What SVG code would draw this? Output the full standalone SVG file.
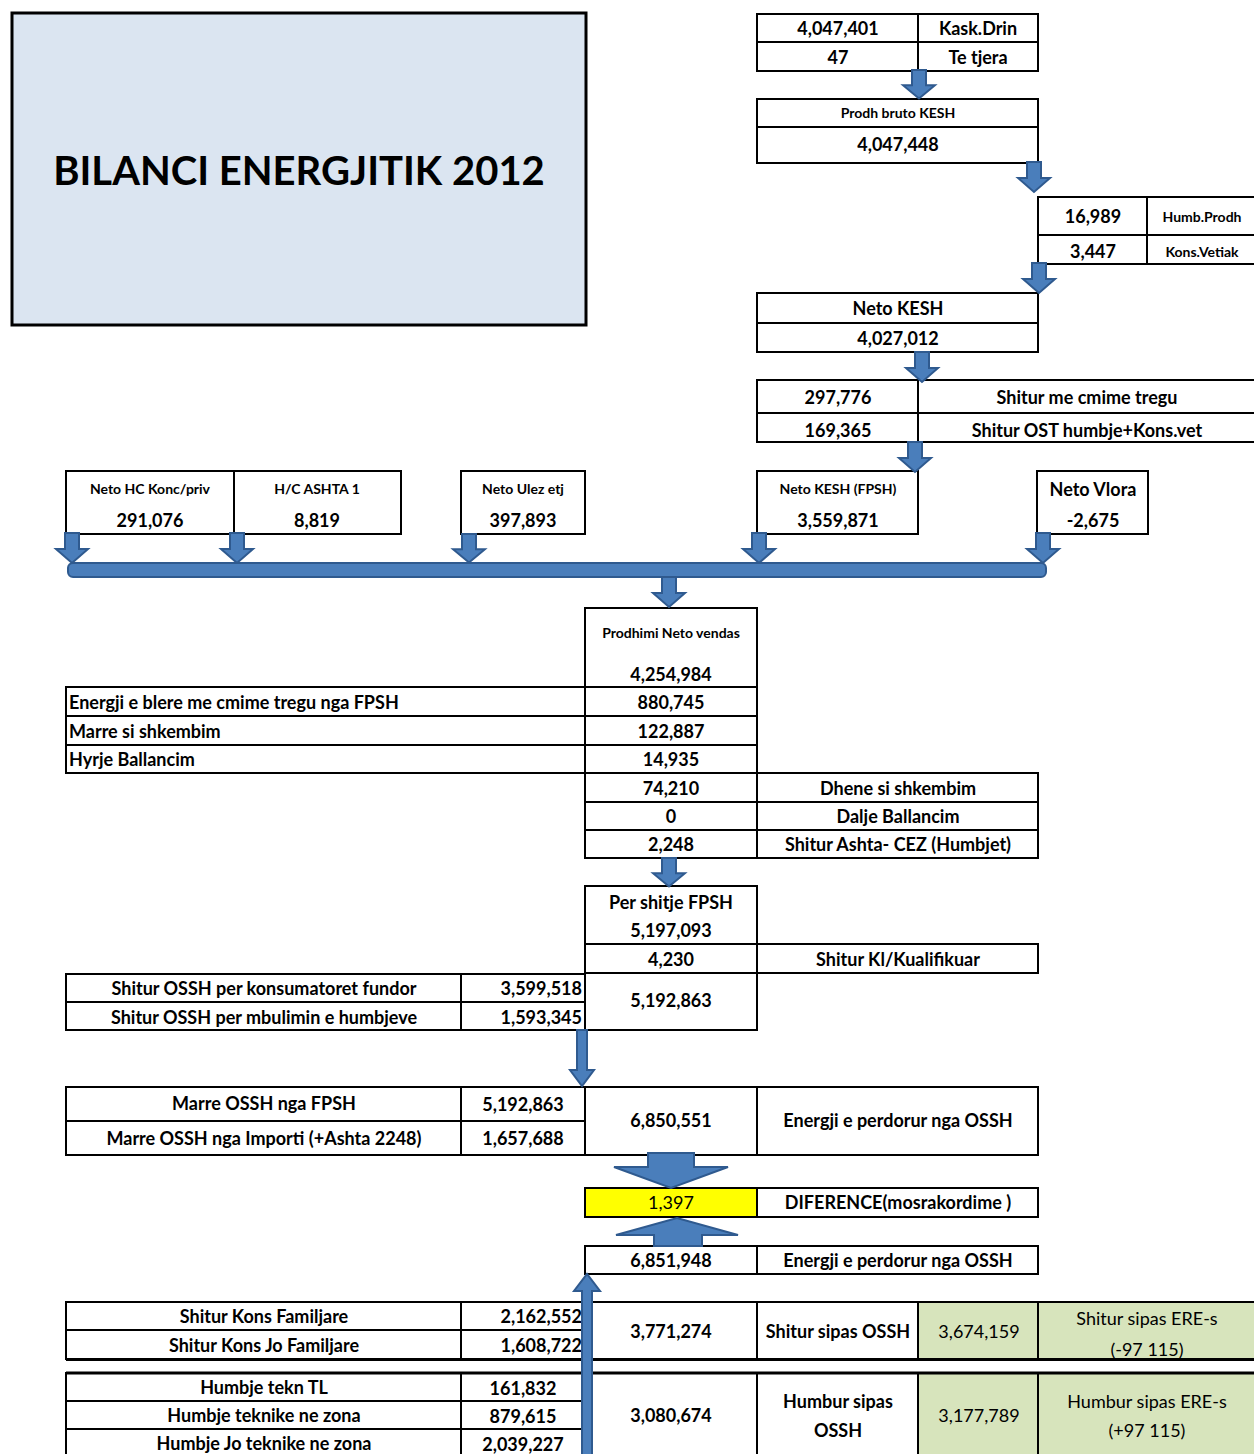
<svg xmlns="http://www.w3.org/2000/svg" width="1254" height="1454" viewBox="0 0 1254 1454">
<style>
.c{fill:#fff;stroke:#000;stroke-width:2}
.g{fill:#d7e4bc;stroke:#000;stroke-width:2}
.y{fill:#ffff00;stroke:#000;stroke-width:2}
.l{stroke:#000;stroke-width:2;fill:none}
text{font-family:Lato,"Liberation Sans",sans-serif;font-weight:bold;font-size:18px;fill:#000;text-anchor:middle}
.s{font-size:14px}
.n{font-weight:normal}
.a{text-anchor:start}
.r{text-anchor:end}
.ar{fill:#4a7ebb;stroke:#2f5a8f;stroke-width:2}
</style>
<defs>
<path id="ad" d="M-7,0 H7 V16 H16 L0,30 L-16,16 H-7 Z"/>
</defs>
<rect width="1254" height="1454" fill="#fff"/>

<g id="title">
<rect x="12" y="13" width="574" height="312" fill="#dbe5f1" stroke="#000" stroke-width="3"/>
<text x="299" y="185" style="font-size:40px">BILANCI ENERGJITIK 2012</text>
</g>

<g id="kask">
<rect class="c" x="757" y="14" width="281" height="57"/>
<path class="l" d="M757,42 H1038 M918,14 V71"/>
<text x="838" y="35">4,047,401</text><text x="978" y="35">Kask.Drin</text>
<text x="838" y="64">47</text><text x="978" y="64">Te tjera</text>
</g>

<g id="bruto">
<rect class="c" x="757" y="99" width="281" height="64"/>
<path class="l" d="M757,127 H1038"/>
<text class="s" x="898" y="118">Prodh bruto KESH</text>
<text x="898" y="151">4,047,448</text>
</g>

<g id="humb">
<rect class="c" x="1038" y="197" width="218" height="67"/>
<path class="l" d="M1038,235 H1254 M1147,197 V264"/>
<text x="1093" y="223">16,989</text><text class="s" x="1202" y="222">Humb.Prodh</text>
<text x="1093" y="258">3,447</text><text class="s" x="1202" y="257">Kons.Vetiak</text>
</g>

<g id="netokesh">
<rect class="c" x="757" y="293" width="281" height="59"/>
<path class="l" d="M757,323 H1038"/>
<text x="898" y="315">Neto KESH</text>
<text x="898" y="345">4,027,012</text>
</g>

<g id="shitur-tregu">
<rect class="c" x="757" y="380" width="499" height="62"/>
<path class="l" d="M757,413 H1254 M918,380 V442"/>
<text x="838" y="404">297,776</text><text x="1087" y="404">Shitur me cmime tregu</text>
<text x="838" y="437">169,365</text><text x="1087" y="437">Shitur OST humbje+Kons.vet</text>
</g>

<g id="hc">
<rect class="c" x="66" y="471" width="168" height="63"/>
<text class="s" x="150" y="494">Neto HC Konc/priv</text>
<text x="150" y="527">291,076</text>
</g>
<g id="ashta">
<rect class="c" x="234" y="471" width="167" height="63"/>
<text class="s" x="317" y="494">H/C  ASHTA 1</text>
<text x="317" y="527">8,819</text>
</g>
<g id="ulez">
<rect class="c" x="461" y="471" width="124" height="63"/>
<text class="s" x="523" y="494">Neto Ulez etj</text>
<text x="523" y="527">397,893</text>
</g>
<g id="fpsh">
<rect class="c" x="757" y="471" width="161" height="63"/>
<text class="s" x="838" y="494">Neto KESH (FPSH)</text>
<text x="838" y="527">3,559,871</text>
</g>
<g id="vlora">
<rect class="c" x="1037" y="471" width="111" height="63"/>
<text x="1093" y="496">Neto Vlora</text>
<text x="1093" y="527">-2,675</text>
</g>

<g id="vendas">
<rect class="c" x="585" y="608" width="172" height="79"/>
<text class="s" x="671" y="638">Prodhimi  Neto vendas</text>
<text x="671" y="681">4,254,984</text>
</g>

<g id="hyrje">
<rect class="c" x="66" y="687" width="691" height="86"/>
<path class="l" d="M66,716 H757 M66,745 H757 M585,687 V773"/>
<text class="a" x="69" y="709">Energji e blere me cmime tregu nga FPSH</text><text x="671" y="709">880,745</text>
<text class="a" x="69" y="738">Marre si shkembim</text><text x="671" y="738">122,887</text>
<text class="a" x="69" y="766">Hyrje Ballancim</text><text x="671" y="766">14,935</text>
</g>

<g id="dalje">
<rect class="c" x="585" y="773" width="453" height="85"/>
<path class="l" d="M585,802 H1038 M585,830 H1038 M757,773 V858"/>
<text x="671" y="795">74,210</text><text x="898" y="795">Dhene si shkembim</text>
<text x="671" y="823">0</text><text x="898" y="823">Dalje Ballancim</text>
<text x="671" y="851">2,248</text><text x="898" y="851">Shitur Ashta- CEZ (Humbjet)</text>
</g>

<g id="pershitje">
<rect class="c" x="585" y="886" width="172" height="144"/>
<rect class="c" x="757" y="944" width="281" height="29"/>
<path class="l" d="M585,944 H757 M585,973 H757"/>
<text x="671" y="909">Per shitje FPSH</text>
<text x="671" y="937">5,197,093</text>
<text x="671" y="966">4,230</text><text x="898" y="966">Shitur Kl/Kualifikuar</text>
<text x="671" y="1007">5,192,863</text>
</g>

<g id="shitur-ossh">
<rect class="c" x="66" y="974" width="519" height="56"/>
<path class="l" d="M66,1002 H585 M461,974 V1030"/>
<text x="264" y="995">Shitur OSSH per konsumatoret  fundor</text><text class="r" x="582" y="995">3,599,518</text>
<text x="264" y="1024">Shitur OSSH per mbulimin e humbjeve</text><text class="r" x="582" y="1024">1,593,345</text>
</g>

<g id="marre">
<rect class="c" x="66" y="1087" width="972" height="68"/>
<path class="l" d="M66,1121 H585 M461,1087 V1155 M585,1087 V1155 M757,1087 V1155"/>
<text x="264" y="1110">Marre OSSH nga FPSH</text><text x="523" y="1111">5,192,863</text>
<text x="264" y="1145">Marre OSSH nga Importi (+Ashta 2248)</text><text x="523" y="1145">1,657,688</text>
<text x="671" y="1127">6,850,551</text><text x="898" y="1127">Energji e perdorur nga OSSH</text>
</g>

<g id="diferenca">
<rect class="y" x="585" y="1188" width="172" height="29"/>
<rect class="c" x="757" y="1188" width="281" height="29"/>
<text class="n" x="671" y="1209">1,397</text><text x="898" y="1209">DIFERENCE(mosrakordime )</text>
</g>

<g id="perdorur2">
<rect class="c" x="585" y="1246" width="453" height="28"/>
<path class="l" d="M757,1246 V1274"/>
<text x="671" y="1267">6,851,948</text><text x="898" y="1267">Energji e perdorur nga OSSH</text>
</g>

<g id="shitur-kons">
<rect class="c" x="66" y="1302" width="519" height="57"/>
<rect class="c" x="585" y="1302" width="172" height="57"/>
<rect class="c" x="757" y="1302" width="161" height="57"/>
<rect class="g" x="918" y="1302" width="120" height="57"/>
<rect class="g" x="1038" y="1302" width="218" height="57"/>
<path class="l" d="M66,1330 H585 M461,1302 V1359"/>
<path d="M66,1359.5 H1254" stroke="#000" stroke-width="3"/>
<text x="264" y="1323">Shitur Kons Familjare</text><text class="r" x="582" y="1323">2,162,552</text>
<text x="264" y="1352">Shitur Kons Jo Familjare</text><text class="r" x="582" y="1352">1,608,722</text>
<text x="671" y="1338">3,771,274</text><text x="838" y="1338">Shitur sipas OSSH</text>
<text class="n" x="979" y="1338">3,674,159</text>
<text class="n" x="1147" y="1325">Shitur sipas ERE-s</text><text class="n" x="1147" y="1356">(-97 115)</text>
</g>

<g id="humbje">
<rect class="c" x="66" y="1373" width="519" height="83"/>
<rect class="c" x="585" y="1373" width="172" height="83"/>
<rect class="c" x="757" y="1373" width="161" height="83"/>
<rect class="g" x="918" y="1373" width="120" height="83"/>
<rect class="g" x="1038" y="1373" width="218" height="83"/>
<path class="l" d="M66,1401 H585 M66,1429 H585 M461,1373 V1456"/>
<path d="M66,1373 H1254" stroke="#000" stroke-width="3"/>
<text x="264" y="1394">Humbje tekn TL</text><text x="523" y="1395">161,832</text>
<text x="264" y="1422">Humbje teknike ne zona</text><text x="523" y="1423">879,615</text>
<text x="264" y="1450">Humbje Jo teknike ne zona</text><text x="523" y="1451">2,039,227</text>
<text x="671" y="1422">3,080,674</text>
<text x="838" y="1408">Humbur sipas</text><text x="838" y="1437">OSSH</text>
<text class="n" x="979" y="1422">3,177,789</text>
<text class="n" x="1147" y="1408">Humbur sipas ERE-s</text><text class="n" x="1147" y="1437">(+97 115)</text>
</g>

<g id="connectors">
<use href="#ad" class="ar" transform="translate(919,70) scale(1,0.95)"/>
<use href="#ad" class="ar" transform="translate(1034,162)"/>
<use href="#ad" class="ar" transform="translate(1039,263)"/>
<use href="#ad" class="ar" transform="translate(922,352)"/>
<use href="#ad" class="ar" transform="translate(915,442)"/>
<use href="#ad" class="ar" transform="translate(72,533)"/>
<use href="#ad" class="ar" transform="translate(237,533)"/>
<use href="#ad" class="ar" transform="translate(469,534) scale(1,0.95)"/>
<use href="#ad" class="ar" transform="translate(759,533)"/>
<use href="#ad" class="ar" transform="translate(1043,533)"/>
<rect class="ar" x="68" y="563" width="978" height="14" rx="5"/>
<use href="#ad" class="ar" transform="translate(669,577)"/>
<use href="#ad" class="ar" transform="translate(669,858) scale(1,0.95)"/>
<path class="ar" d="M577,1030 H587 V1070 H594 L582,1086 L570,1070 H577 Z"/>
<path class="ar" d="M648,1153 H694 V1167 H728 L671,1188 L614,1167 H648 Z"/>
<path class="ar" d="M654,1246 H702 V1235 H738 L677,1218 L616,1235 H654 Z"/>
<path class="ar" d="M582,1456 H592 V1291 H600 L587,1274 L574,1291 H582 Z"/>
</g>
</svg>
